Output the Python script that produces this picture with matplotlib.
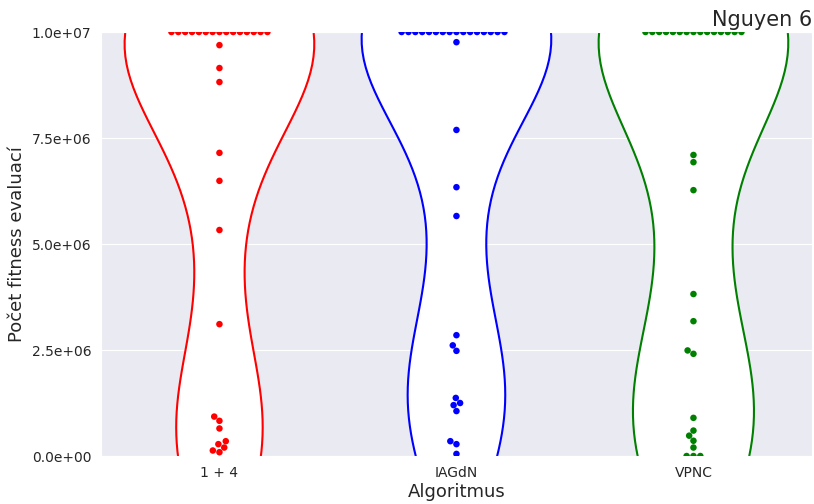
import numpy as np
import pandas as pd
import matplotlib
matplotlib.use("Agg")
import matplotlib.pyplot as plt
from matplotlib.ticker import FormatStrFormatter
from matplotlib.collections import PolyCollection
import seaborn as sns

# počty fitness evaluací pro jednotlivé běhy (limit 1e7 = nenalezeno)
algoritmy = ["1 + 4", "IAGdN", "VPNC"]
barvy = ["red", "blue", "green"]

evals_1p4 = [1e7] * 15 + [9.69e6, 9.15e6, 8.82e6, 7.15e6, 6.49e6, 5.33e6, 3.11e6,
                          0.93e6, 0.83e6, 0.65e6, 0.35e6, 0.28e6, 0.20e6, 0.13e6, 0.09e6]
evals_iagdn = [1e7] * 16 + [9.76e6, 7.69e6, 6.34e6, 5.66e6, 2.85e6, 2.61e6, 2.48e6,
                            1.37e6, 1.25e6, 1.20e6, 1.06e6, 0.35e6, 0.28e6, 0.05e6]
evals_vpnc = [1e7] * 15 + [7.10e6, 6.93e6, 6.27e6, 3.82e6, 3.18e6, 2.49e6, 2.41e6,
                           0.90e6, 0.60e6, 0.48e6, 0.36e6, 0.20e6, 0.0, 0.0, 0.0]

data = pd.DataFrame({
    "Algoritmus": ["1 + 4"] * len(evals_1p4) + ["IAGdN"] * len(evals_iagdn) + ["VPNC"] * len(evals_vpnc),
    "evals": evals_1p4 + evals_iagdn + evals_vpnc,
})

sns.set_style("darkgrid")
fig = plt.figure(figsize=(8.14, 5.04), dpi=100)
ax = fig.add_axes([0.124, 0.0952, 0.8735, 0.8413])

sns.violinplot(data=data, x="Algoritmus", y="evals", order=algoritmy,
               hue="Algoritmus", palette=barvy, inner=None, ax=ax, legend=False)
# bílá výplň, barevný obrys
polys = [c for c in ax.collections if isinstance(c, PolyCollection)]
for poly, barva in zip(polys, barvy):
    poly.set_facecolor("white")
    poly.set_edgecolor(barva)
    poly.set_linewidth(1.5)

sns.swarmplot(data=data, x="Algoritmus", y="evals", order=algoritmy,
              hue="Algoritmus", palette=barvy, size=4.7, linewidth=0,
              ax=ax, legend=False)

ax.set_ylim(0, 1e7)
ax.set_xlim(-0.5, 2.5)
ax.set_yticks([0, 2.5e6, 5e6, 7.5e6, 1e7])
ax.yaxis.set_major_formatter(FormatStrFormatter("%.1e"))
ax.tick_params(labelsize=10)
ax.set_xlabel("Algoritmus", fontsize=13, labelpad=2)
ax.set_ylabel("Počet fitness evaluací", fontsize=13)
ax.set_title("Nguyen 6", loc="right", fontsize=15, pad=4)

fig.savefig("out.png", dpi=100)
